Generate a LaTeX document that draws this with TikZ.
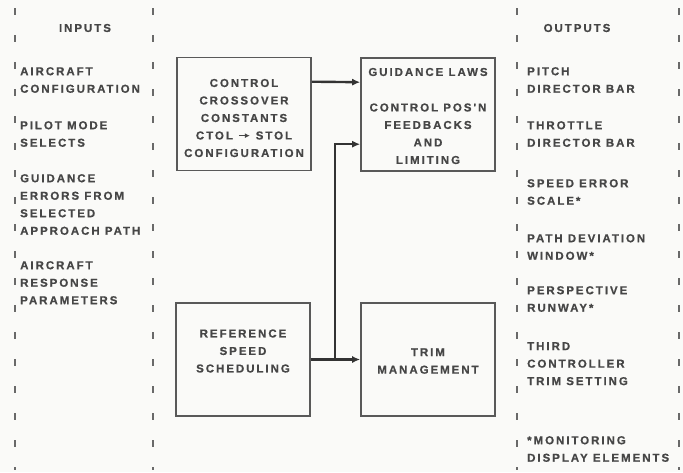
\documentclass[tikz,border=0pt]{standalone}
\usepackage{fontspec}
\usetikzlibrary{arrows.meta}
\newfontfamily\lbl[LetterSpace=17,FakeBold=0.6]{Liberation Sans Bold}
\definecolor{ink}{RGB}{70,70,70}
\definecolor{paper}{RGB}{250,250,248}
\definecolor{dash}{RGB}{105,105,105}
\begin{document}
\begin{tikzpicture}[x=1pt,y=-1pt,
  txt/.style={font=\lbl\fontsize{11.5}{17.5}\selectfont, text=ink, inner sep=0pt},
  coltxt/.style={txt, align=left, anchor=north west},
  blk/.style={draw=ink!90, line width=1.6pt, inner sep=0pt, minimum width=134pt, minimum height=113pt},
  dashline/.style={draw=dash, line width=1.1pt, dash pattern=on 7pt off 20pt},
  arr/.style={draw=black!80, line width=2.4pt, -{Latex[length=8pt,width=7pt]}}]
\fill[paper] (0,0) rectangle (683,472);
\useasboundingbox (0,0) rectangle (683,472);
% dashed column rules
\draw[dashline] (15,8) -- (15,470);
\draw[dashline] (153,8) -- (153,470);
\draw[dashline] (517,8) -- (517,470);
\draw[dashline] (679,8) -- (679,470);
% inputs
\node[txt] (inh) at (85,28) {INPUTS};
\node[coltxt] (in1) at (20,67) {AIRCRAFT\\CONFIGURATION};
\node[coltxt] (in2) at (20,121) {PILOT MODE\\SELECTS};
\node[coltxt] (in3) at (20,174) {GUIDANCE\\ERRORS FROM\\SELECTED\\APPROACH PATH};
\node[coltxt] (in4) at (20,261) {AIRCRAFT\\RESPONSE\\PARAMETERS};
% outputs
\node[txt] (outh) at (577,28) {OUTPUTS};
\node[coltxt] (o1) at (527,67) {PITCH\\DIRECTOR BAR};
\node[coltxt] (o2) at (527,121) {THROTTLE\\DIRECTOR BAR};
\node[coltxt] (o3) at (527,179) {SPEED ERROR\\SCALE*};
\node[coltxt] (o4) at (527,234) {PATH DEVIATION\\WINDOW*};
\node[coltxt] (o5) at (527,286) {PERSPECTIVE\\RUNWAY*};
\node[coltxt] (o6) at (527,342) {THIRD\\CONTROLLER\\TRIM SETTING};
\node[coltxt] (o7) at (527,436) {*MONITORING\\DISPLAY ELEMENTS};
% blocks
\node[blk] (cc) at (244,114) {};
\node[blk] (gl) at (428,114.5) {};
\node[blk] (rs) at (243,359.5) {};
\node[blk] (tm) at (428,359.5) {};
\node[txt, align=center] (cct) at (244,118) {CONTROL\\CROSSOVER\\CONSTANTS\\CTOL \tikz[baseline]{\draw[line width=1.6pt,-{Latex[length=5pt,width=5pt]}] (0,3.8pt) -- (11pt,3.8pt);} STOL\\CONFIGURATION};
\node[txt, align=center] (glt) at (428,116) {GUIDANCE LAWS\\[18pt]CONTROL POS'N\\FEEDBACKS\\AND\\LIMITING};
\node[txt, align=center] (rst) at (243,351) {REFERENCE\\SPEED\\SCHEDULING};
\node[txt, align=center] (tmt) at (428,361) {TRIM\\MANAGEMENT};
% connectors
\coordinate (j) at (335,359.5);
\draw[arr] ([yshift=-25pt]cc.north east) -- ([yshift=-25pt]gl.north west);
\draw[arr] (rs.east) -- (tm.west);
\draw[arr] (j) |- ([yshift=-87pt]gl.north west);
\end{tikzpicture}
\end{document}
